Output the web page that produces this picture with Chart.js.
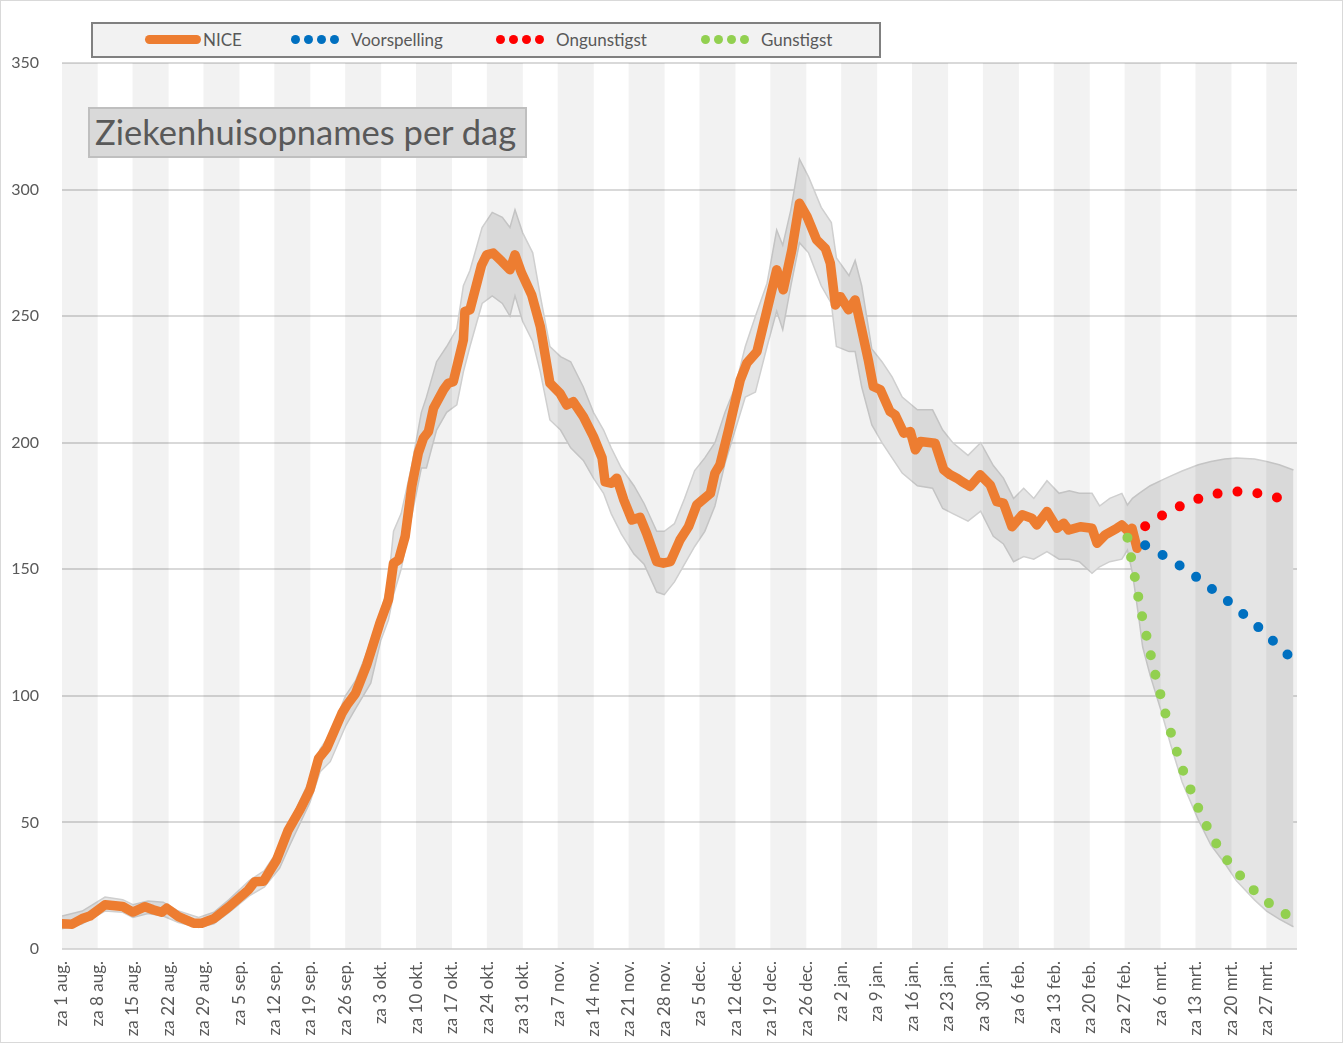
<!DOCTYPE html>
<html>
<head>
<meta charset="utf-8">
<script src="https://cdn.jsdelivr.net/npm/chart.js@4.4.1/dist/chart.umd.min.js"></script>
<style>
  html, body { margin: 0; padding: 0; background: #fff; }
  #wrap { position: relative; width: 1343px; height: 1043px; font-family: Lato, sans-serif; color: #595959; }
  #chart { position: absolute; left: 0; top: 0; }
  #frame { position: absolute; left: 0; top: 0; width: 1343px; height: 1043px; box-sizing: border-box; border: 1px solid #d9d9d9; pointer-events: none; }
  #legend { position: absolute; left: 91px; top: 22px; width: 790px; height: 36px; box-sizing: border-box;
            background: #f2f2f2; border: 2px solid #808080; }
  #legend .item { position: absolute; top: 0; height: 30px; display: flex; align-items: center; font-size: 17px; white-space: nowrap; }
  #legend .bar { display: inline-block; width: 56px; height: 9px; border-radius: 5px; margin-right: 2px; }
  #legend .dot { display: inline-block; width: 9px; height: 9px; border-radius: 50%; margin-right: 4px; }
  #legend .dots { display: inline-flex; margin-right: 8px; }
  #title { position: absolute; left: 88px; top: 107px; width: 439px; height: 51px; box-sizing: border-box;
           background: #d9d9d9; border: 2px solid #bfbfbf; font-size: 34.5px; line-height: 46px; padding-left: 5px; white-space: nowrap; }
</style>
</head>
<body>
<div id="wrap">
  <canvas id="chart" width="1343" height="1043"></canvas>
  <div id="legend"></div>
  <div id="title">Ziekenhuisopnames per dag</div>
  <div id="frame"></div>
</div>
<script>
// x labels, one every 7 days starting 1 aug
const tickLabels = ['za 1 aug.', 'za 8 aug.', 'za 15 aug.', 'za 22 aug.', 'za 29 aug.', 'za 5 sep.', 'za 12 sep.',
  'za 19 sep.', 'za 26 sep.', 'za 3 okt.', 'za 10 okt.', 'za 17 okt.', 'za 24 okt.', 'za 31 okt.', 'za 7 nov.',
  'za 14 nov.', 'za 21 nov.', 'za 28 nov.', 'za 5 dec.', 'za 12 dec.', 'za 19 dec.', 'za 26 dec.', 'za 2 jan.',
  'za 9 jan.', 'za 16 jan.', 'za 23 jan.', 'za 30 jan.', 'za 6 feb.', 'za 13 feb.', 'za 20 feb.', 'za 27 feb.',
  'za 6 mrt.', 'za 13 mrt.', 'za 20 mrt.', 'za 27 mrt.'];
const seriesNames = ['NICE', 'Voorspelling', 'Ongunstigst', 'Gunstigst'];

// NICE: day number since 1 aug, admissions per day
const niceDays = [0, 2, 4, 5.5, 8.5, 10, 12, 14, 16.4, 18, 19.7, 20.7, 23, 26, 27.6, 30, 33, 36.8, 38.1, 39.8,
  42.4, 44.7, 47, 49, 50.7, 52.3, 55.3, 56.3, 58, 60.2, 62.8, 64.5, 65.5, 66.5, 67.8, 69.1, 70.4, 71.4, 72.4, 73.4,
  75.4, 76.3, 77.3, 79.3, 79.6, 80.6, 82.9, 83.9, 85.2, 86.9, 88.5, 89.5, 90.8, 92.8, 94.5, 96.4, 98.4, 99.7, 101,
  103, 105, 106.7, 107.3, 108.6, 109.6, 111, 112.6, 114.2, 115.5, 117.5, 118.8, 120.2, 122.1, 123.8, 125.4, 128.1,
  129, 130, 131.7, 134, 135.3, 137.3, 139.3, 141.2, 142.5, 144.2, 145.7, 147.2, 149.1, 150.8, 151.8, 152.8, 153.8,
  155.4, 156.7, 158, 159.3, 160.3, 161.7, 163.6, 164.6, 166.3, 167.6, 168.6, 169.6, 172.5, 174.2, 175.5, 176.8,
  177.8, 179.4, 181.4, 183.4, 184.7, 186, 187.7, 189.7, 191.6, 192.6, 194.6, 196.6, 197.9, 198.9, 201.2, 203.5,
  204.5, 206.1, 208.4, 209.4, 210.7, 211.4, 212.4];
const niceValues = [10, 9.8, 12, 13, 17.5, 17.2, 16.8, 14.6, 16.7, 15.5, 14.5, 16.1, 12.8, 10.2, 10.2, 12, 16.7, 23.3, 26.6, 26.8,
  35.2, 47, 55, 63, 75.3, 79.3, 93.1, 96.4, 101, 112.2, 128.7, 138, 152.4, 153.7, 163, 182.7, 196, 201.8, 204.4, 213.6,
  221, 223.5, 224.1, 240.6, 251.8, 252.5, 270.2, 274.2, 274.9, 271.6, 268.3, 274.2, 267, 258.4, 245.9, 223.5, 219.5, 214.9, 216.2,
  210.3, 202.4, 194, 184.5, 184, 186, 177.4, 169.5, 170.5, 164.2, 153, 152.4, 153, 161.6, 166.9, 175.4, 180,
  188, 191.3, 205.1, 224.8, 231.4, 236, 252.5, 268.3, 260.4, 276.2, 294.6, 289.3, 280.1, 276.8, 270.9, 254.4, 257.7,
  252.5, 256.4, 244.6, 232.7, 222.2, 220.9, 212.3, 211, 203.8, 204.4, 197.2, 200.5, 199.8, 189.3, 187.3, 186,
  184.6, 182.7, 187.3, 183.3, 176.7, 176.1, 166.8, 171.5, 170.2, 167.5, 172.8, 166.2, 168.2, 165.5, 166.8, 166.2,
  160.3, 163.6, 166.2, 167.5, 164.9, 166.2, 158.3];

// uncertainty band (history + forecast range)
const bandDays = [0, 4, 8.5, 12, 14, 17, 20, 23, 27, 30, 33, 37, 40, 43, 45, 49, 51, 53, 56, 58, 61, 63, 64.5, 65.5,
  67, 69, 71, 72, 74, 76, 78, 79.3, 80.6, 83, 85, 87, 88.5, 89.5, 91, 93, 94.5, 96.4, 98.5, 100.5, 103, 105, 107,
  108.5, 110.5, 113, 115, 117.5, 119, 121, 123, 125, 127, 129, 131, 133, 135, 137, 139.3, 141.2, 142.4, 144, 145.7,
  147.5, 150, 152, 153, 155.5, 156.7, 158, 160, 162, 164, 166, 169, 172, 174, 176, 179, 181.5, 184, 186, 188, 190,
  192, 194.6, 197, 199, 201, 203.5, 205, 207, 209.4, 210.5, 211.5, 212.8, 213.5, 215, 217.3, 219, 221.3, 224.5,
  227, 229.7, 232, 235.6, 238, 240.5, 243.3];
const bandUpper = [13, 15, 20.5, 19.5, 17.5, 19, 18.5, 15, 12.5, 14.5, 19.5, 27, 31, 40, 50, 67, 79, 85, 100, 106, 121, 133, 145, 165,
  172, 190, 212, 218, 232, 238, 245, 262, 268, 285, 291, 289, 285, 292, 283, 275, 258, 238, 234, 232, 222, 212, 205,
  198, 190, 183, 176, 165, 165, 168, 178, 189, 194, 200, 212, 222, 238, 250, 263, 284, 278, 292, 312,
  305, 293, 287, 273, 266, 272, 262, 237, 232, 226, 218, 213, 213, 205, 200, 195, 200, 191, 186, 178, 182,
  178, 185, 180, 181, 180, 180, 175, 178, 180, 175.4, 178, 180, 181, 183, 185.2, 186.8, 188.8, 191.3,
  192.6, 193.6, 194, 193.6, 192.6, 191.3, 189.2];
const bandLower = [8, 10, 15, 14.5, 12.5, 14, 13, 10.5, 8.5, 10, 14.5, 21, 24.5, 32, 41, 58, 70, 74, 88, 95, 105, 122, 130, 140,
  150, 170, 190, 190, 205, 212, 215, 228, 238, 255, 258, 255, 250, 258, 248, 240, 228, 209, 205, 198, 193, 186, 180,
  172, 164, 156, 152, 141, 140, 145, 152, 159, 165, 175, 192, 205, 218, 220, 238, 252, 244.6, 262, 279,
  275, 262, 255, 238, 236, 236, 222, 207, 200, 194, 188, 183, 182, 174, 172, 169, 173, 163, 160, 153, 155,
  154, 157, 154, 154, 153, 148.4, 151, 153, 154, 157.6, 148.4, 130, 119.4, 108, 93.1, 81, 66, 51,
  41, 33.9, 27, 19.4, 15, 11.8, 8.8];

// forecasts
const voorspDays = [214, 216, 218, 220, 222, 224, 226, 228, 230, 232, 234, 236, 238, 240, 242, 243];
const voorspValues = [159.5, 157.2, 155, 152.5, 150, 147.1, 144, 141, 138, 134.7, 131.3, 127.8, 124.2, 120.3, 116.6, 114.6];
const ongunstDays = [214, 216, 218, 220, 222, 224, 226, 228, 230, 232, 234, 236, 238, 240, 242];
const ongunstValues = [167, 169.7, 172, 174.1, 175.9, 177.5, 178.8, 179.8, 180.4, 180.7, 180.6, 180.1, 179.3, 178.4, 177.3];
const gunstDays = [210.5, 211, 212, 213, 214, 215, 216, 217, 218, 219, 220, 221, 222, 223, 224, 225, 226, 227, 228,
  229, 230, 231, 232, 233, 234, 235, 236, 237, 238, 239, 240, 241, 242];
const gunstValues = [162.5, 157, 146.5, 135, 126, 117, 108.4, 100.7, 93, 86, 79.5, 73.3, 67.5, 62.9, 58, 53.3, 49.2, 45.3, 41.8,
  38.5, 35.6, 33, 30.7, 28.5, 26.3, 24.1, 22.2, 20.5, 18.8, 17.3, 15.9, 14.6, 13.5];

const colors = ['#ED7D31', '#0070C0', '#FF0000', '#92D050'];
const TXT = '#595959';

function pts(xs, ys) {
  return xs.map((x, i) => ({ x: x, y: ys[i] }));
}

// alternate week shading: every other week starting with the first one
const stripes = tickLabels.filter((_, i) => i % 2 === 0).map((_, k) => ({ x: k * 14 + 3.5, y: 350 }));

const dotted = (data, color, order) => ({
  type: 'line',
  data: data,
  borderColor: color,
  backgroundColor: color,
  borderWidth: 10,
  borderDash: [0, 20],
  borderCapStyle: 'round',
  pointRadius: 0,
  fill: false,
  order: order,
});

new Chart(document.getElementById('chart').getContext('2d'), {
  type: 'line',
  data: {
    datasets: [
      {
        data: pts(bandDays, bandUpper),
        borderColor: '#cfcfcf',
        borderWidth: 1.5,
        backgroundColor: '#e5e5e5',
        fill: '+1',
        pointRadius: 0,
        order: 11,
      },
      {
        data: pts(bandDays, bandLower),
        borderColor: '#cfcfcf',
        borderWidth: 1.5,
        fill: false,
        pointRadius: 0,
        order: 10,
      },
      {
        type: 'bar',
        data: stripes,
        backgroundColor: 'rgba(0,0,0,0.05)',
        borderWidth: 0,
        barPercentage: 1,
        categoryPercentage: 1,
        grouped: false,
        order: 8,
      },
      {
        label: seriesNames[0],
        data: pts(niceDays, niceValues),
        borderColor: colors[0],
        borderWidth: 9.5,
        borderJoinStyle: 'round',
        borderCapStyle: 'round',
        pointRadius: 0,
        fill: false,
        order: 5,
      },
      dotted(pts(voorspDays, voorspValues), colors[1], 3),
      dotted(pts(ongunstDays, ongunstValues), colors[2], 2),
      dotted(pts(gunstDays, gunstValues), colors[3], 1),
    ],
  },
  options: {
    responsive: false,
    animation: false,
    layout: { padding: { left: 0, top: 63, right: 46, bottom: 0 } },
    plugins: {
      legend: { display: false },
      tooltip: { enabled: false },
    },
    scales: {
      x: {
        type: 'linear',
        offset: false,
        min: 0,
        max: 244,
        grid: { display: false, drawTicks: false, offset: false },
        border: { display: false },
        ticks: {
          stepSize: 7,
          includeBounds: false,
          autoSkip: false,
          maxRotation: 90,
          minRotation: 90,
          padding: 12,
          color: TXT,
          font: { family: 'Lato', size: 17 },
          callback: (v) => (v % 7 === 0 ? tickLabels[v / 7] : ''),
        },
        afterFit: (s) => {
          s.height = 94;
          s.paddingLeft = 0;
          s.paddingRight = 0;
        },
      },
      y: {
        min: 0,
        max: 350,
        grid: { color: '#d9d9d9', lineWidth: 2, drawTicks: false },
        border: { display: false },
        ticks: {
          stepSize: 50,
          padding: 23,
          color: TXT,
          font: { family: 'Lato', size: 16 },
        },
        afterFit: (s) => {
          s.width = 62;
          s.paddingTop = 0;
          s.paddingBottom = 0;
        },
      },
    },
  },
});

// legend box
const legend = document.getElementById('legend');
const itemLeft = [52, 198, 403, 608];
seriesNames.forEach((name, i) => {
  const item = document.createElement('span');
  item.className = 'item';
  item.style.left = itemLeft[i] + 'px';
  if (i === 0) {
    const b = document.createElement('span');
    b.className = 'bar';
    b.style.background = colors[i];
    item.appendChild(b);
  } else {
    const d = document.createElement('span');
    d.className = 'dots';
    for (let k = 0; k < 4; k++) {
      const dot = document.createElement('span');
      dot.className = 'dot';
      dot.style.background = colors[i];
      d.appendChild(dot);
    }
    item.appendChild(d);
  }
  item.appendChild(document.createTextNode(name));
  legend.appendChild(item);
});
</script>
</body>
</html>
